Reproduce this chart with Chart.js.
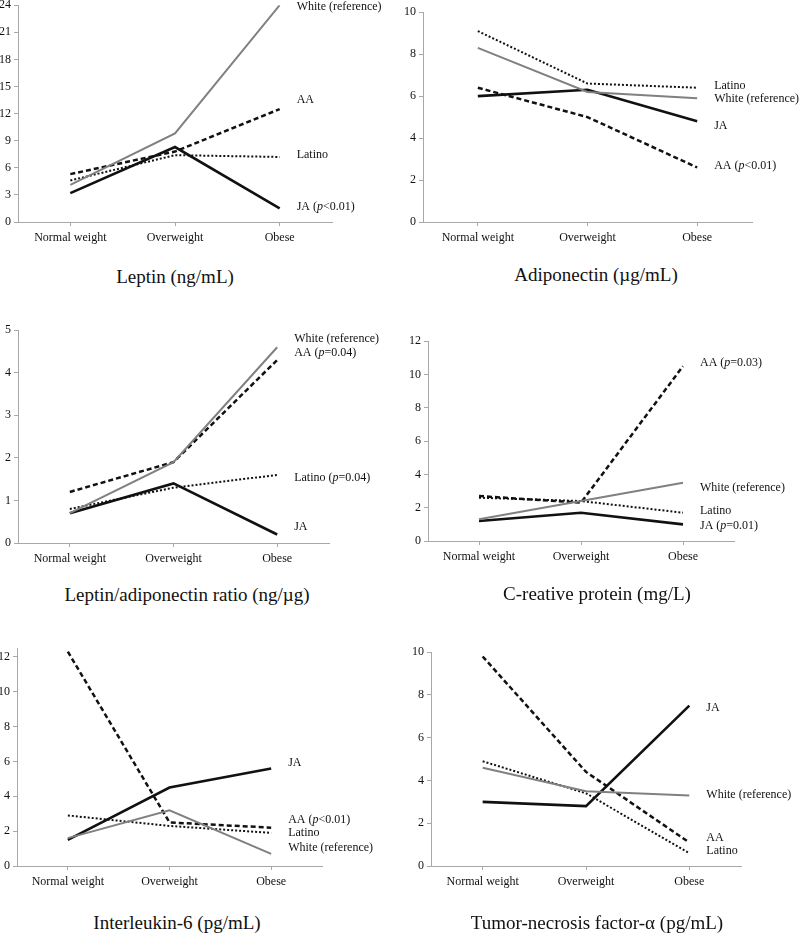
<!DOCTYPE html>
<html>
<head>
<meta charset="utf-8">
<script src="https://cdn.jsdelivr.net/npm/chart.js@4/dist/chart.umd.min.js"></script>
<style>
  html, body { margin: 0; padding: 0; background: #fff; }
  body { width: 800px; height: 935px; position: relative; overflow: hidden; }
  canvas { position: absolute; }
  .ttl { position: absolute; font-family: 'Liberation Serif', 'Times New Roman', serif; font-size: 19px; color: #111; white-space: nowrap; transform: translate(-50%, -50%); }
</style>
</head>
<body>
<script>
// ---------- DATA ----------
const categories = ['Normal weight', 'Overweight', 'Obese'];
const seriesNames = ['White', 'AA', 'Latino', 'JA'];

// Leptin (ng/mL)
const leptinWhite  = [4.1, 9.8, 24.0];
const leptinAA     = [5.3, 7.8, 12.5];
const leptinLatino = [4.6, 7.4, 7.2];
const leptinJA     = [3.2, 8.3, 1.5];
const leptinLabels = ['White (reference)', 'AA', 'Latino', 'JA (*p*<0.01)'];
const leptinLabelY = [23.8, 13.5, 7.4, 1.7];
const leptinTicks  = [0, 3, 6, 9, 12, 15, 18, 21, 24];

// Adiponectin (µg/mL)
const adipoWhite  = [8.3, 6.2, 5.9];
const adipoAA     = [6.4, 5.0, 2.6];
const adipoLatino = [9.1, 6.6, 6.4];
const adipoJA     = [6.0, 6.3, 4.8];
const adipoLabels = ['White (reference)', 'AA (*p*<0.01)', 'Latino', 'JA'];
const adipoLabelY = [5.85, 2.66, 6.5, 4.6];
const adipoTicks  = [0, 2, 4, 6, 8, 10];

// Leptin/adiponectin ratio (ng/µg)
const ratioWhite  = [0.7, 1.9, 4.6];
const ratioAA     = [1.2, 1.9, 4.3];
const ratioLatino = [0.8, 1.3, 1.6];
const ratioJA     = [0.7, 1.4, 0.2];
const ratioLabels = ['White (reference)', 'AA (*p*=0.04)', 'Latino (*p*=0.04)', 'JA'];
const ratioLabelY = [4.79, 4.46, 1.53, 0.38];
const ratioTicks  = [0, 1, 2, 3, 4, 5];

// C-reactive protein (mg/L)
const crpWhite  = [1.3, 2.4, 3.5];
const crpAA     = [2.7, 2.3, 10.5];
const crpLatino = [2.6, 2.4, 1.7];
const crpJA     = [1.2, 1.7, 1.0];
const crpLabels = ['White (reference)', 'AA (*p*=0.03)', 'Latino', 'JA (*p*=0.01)'];
const crpLabelY = [3.18, 10.68, 1.8, 0.9];
const crpTicks  = [0, 2, 4, 6, 8, 10, 12];

// Interleukin-6 (pg/mL)
const il6White  = [1.6, 3.2, 0.7];
const il6AA     = [12.3, 2.5, 2.2];
const il6Latino = [2.9, 2.3, 1.9];
const il6JA     = [1.5, 4.5, 5.6];
const il6Labels = ['White (reference)', 'AA (*p*<0.01)', 'Latino', 'JA'];
const il6LabelY = [1.03, 2.64, 1.89, 5.9];
const il6Ticks  = [0, 2, 4, 6, 8, 10, 12];

// Tumor-necrosis factor-α (pg/mL)
const tnfWhite  = [4.6, 3.5, 3.3];
const tnfAA     = [9.8, 4.4, 1.1];
const tnfLatino = [4.9, 3.4, 0.6];
const tnfJA     = [3.0, 2.8, 7.5];
const tnfLabels = ['White (reference)', 'AA', 'Latino', 'JA'];
const tnfLabelY = [3.31, 1.31, 0.7, 7.42];
const tnfTicks  = [0, 2, 4, 6, 8, 10];

const titles = ['Leptin (ng/mL)', 'Adiponectin (\u00b5g/mL)', 'Leptin/adiponectin ratio (ng/\u00b5g)',
                'C-reative protein (mg/L)', 'Interleukin-6 (pg/mL)', 'Tumor-necrosis factor-\u03b1 (pg/mL)'];

// ---------- STYLE / LAYOUT ----------
const FONT = "'Liberation Serif', 'Times New Roman', serif";
const AXIS = '#a8a8a8';
const styles = {
  White:  { color: '#808080', width: 2,   dash: [] },
  AA:     { color: '#111111', width: 2.5, dash: [5, 3] },
  Latino: { color: '#111111', width: 2,   dash: [2, 2] },
  JA:     { color: '#111111', width: 2.6, dash: [] }
};

const panels = [
  { series: [leptinWhite, leptinAA, leptinLatino, leptinJA], labels: leptinLabels, labelY: leptinLabelY, ticks: leptinTicks, max: 24,
    area: { left: 18, right: 332, top: 5, bottom: 222 }, canvasRight: 400, title: { x: 175, y: 277 } },
  { series: [adipoWhite, adipoAA, adipoLatino, adipoJA], labels: adipoLabels, labelY: adipoLabelY, ticks: adipoTicks, max: 10,
    area: { left: 423, right: 752, top: 12, bottom: 222 }, canvasRight: 800, title: { x: 596, y: 275 } },
  { series: [ratioWhite, ratioAA, ratioLatino, ratioJA], labels: ratioLabels, labelY: ratioLabelY, ticks: ratioTicks, max: 5,
    area: { left: 18, right: 329, top: 330, bottom: 543 }, canvasRight: 400, title: { x: 187, y: 595 } },
  { series: [crpWhite, crpAA, crpLatino, crpJA], labels: crpLabels, labelY: crpLabelY, ticks: crpTicks, max: 12,
    area: { left: 428, right: 734, top: 341, bottom: 541 }, canvasRight: 800, title: { x: 597, y: 594 } },
  { series: [il6White, il6AA, il6Latino, il6JA], labels: il6Labels, labelY: il6LabelY, ticks: il6Ticks, max: 12.5,
    area: { left: 17, right: 322, top: 648, bottom: 866 }, canvasRight: 400, title: { x: 177, y: 923 } },
  { series: [tnfWhite, tnfAA, tnfLatino, tnfJA], labels: tnfLabels, labelY: tnfLabelY, ticks: tnfTicks, max: 10,
    area: { left: 431, right: 741, top: 652, bottom: 866 }, canvasRight: 800, title: { x: 597, y: 923 } }
];

const Y_W = 34, X_H = 30, PAD_TOP = 10;

function drawRich(ctx, text, x, y) {
  const parts = text.split('*');
  let cx = x;
  parts.forEach((p, i) => {
    if (!p) return;
    ctx.font = (i % 2 === 1 ? 'italic ' : '') + '12px ' + FONT;
    ctx.fillText(p, cx, y);
    cx += ctx.measureText(p).width;
  });
}

const endLabels = {
  id: 'endLabels',
  afterDatasetsDraw(chart, args, opts) {
    const ctx = chart.ctx;
    const xs = chart.scales.x, ys = chart.scales.y;
    ctx.save();
    ctx.fillStyle = '#111';
    ctx.textBaseline = 'middle';
    ctx.textAlign = 'left';
    opts.labels.forEach((lab, i) => {
      const x = xs.getPixelForValue(categories.length - 1) + 17;
      const y = ys.getPixelForValue(opts.labelY[i]);
      drawRich(ctx, lab, x, y);
    });
    ctx.restore();
  }
};

panels.forEach((p, idx) => {
  const a = p.area;
  const cLeft = a.left - Y_W;
  const cTop = a.top - PAD_TOP;
  const cW = p.canvasRight - cLeft;
  const cH = a.bottom + X_H - cTop;
  const canvas = document.createElement('canvas');
  canvas.width = cW; canvas.height = cH;
  canvas.style.left = cLeft + 'px'; canvas.style.top = cTop + 'px';
  canvas.style.width = cW + 'px'; canvas.style.height = cH + 'px';
  document.body.appendChild(canvas);

  const datasets = p.series.map((vals, i) => {
    const s = styles[seriesNames[i]];
    return {
      label: seriesNames[i], data: vals,
      borderColor: s.color, borderWidth: s.width, borderDash: s.dash,
      pointRadius: 0, tension: 0, fill: false, borderCapStyle: 'butt'
    };
  });
  // draw order: white first, then others so black lines on top
  new Chart(canvas, {
    type: 'line',
    data: { labels: categories, datasets },
    options: {
      responsive: false, animation: false, devicePixelRatio: 1,
      layout: { padding: { left: 0, top: PAD_TOP, right: p.canvasRight - a.right, bottom: 0 } },
      plugins: { legend: { display: false }, tooltip: { enabled: false }, title: { display: false },
                 endLabels: { labels: p.labels, labelY: p.labelY } },
      scales: {
        x: {
          offset: true,
          grid: { display: true, drawOnChartArea: false, drawTicks: true, tickLength: 4, color: AXIS, offset: false },
          border: { display: true, color: AXIS, width: 1 },
          ticks: { color: '#111', font: { family: FONT, size: 12 }, padding: 5, maxRotation: 0 },
          afterFit(scale) { scale.height = X_H; }
        },
        y: {
          min: 0, max: p.max,
          grid: { display: true, drawOnChartArea: false, drawTicks: true, tickLength: 4, color: AXIS },
          border: { display: true, color: AXIS, width: 1 },
          ticks: { color: '#111', font: { family: FONT, size: 12 }, padding: 3 },
          afterBuildTicks(scale) { scale.ticks = p.ticks.map(v => ({ value: v })); },
          afterFit(scale) { scale.width = Y_W; }
        }
      }
    },
    plugins: [endLabels]
  });

  const t = document.createElement('div');
  t.className = 'ttl';
  t.textContent = titles[idx];
  t.style.left = p.title.x + 'px';
  t.style.top = p.title.y + 'px';
  document.body.appendChild(t);
});
</script>
</body>
</html>
